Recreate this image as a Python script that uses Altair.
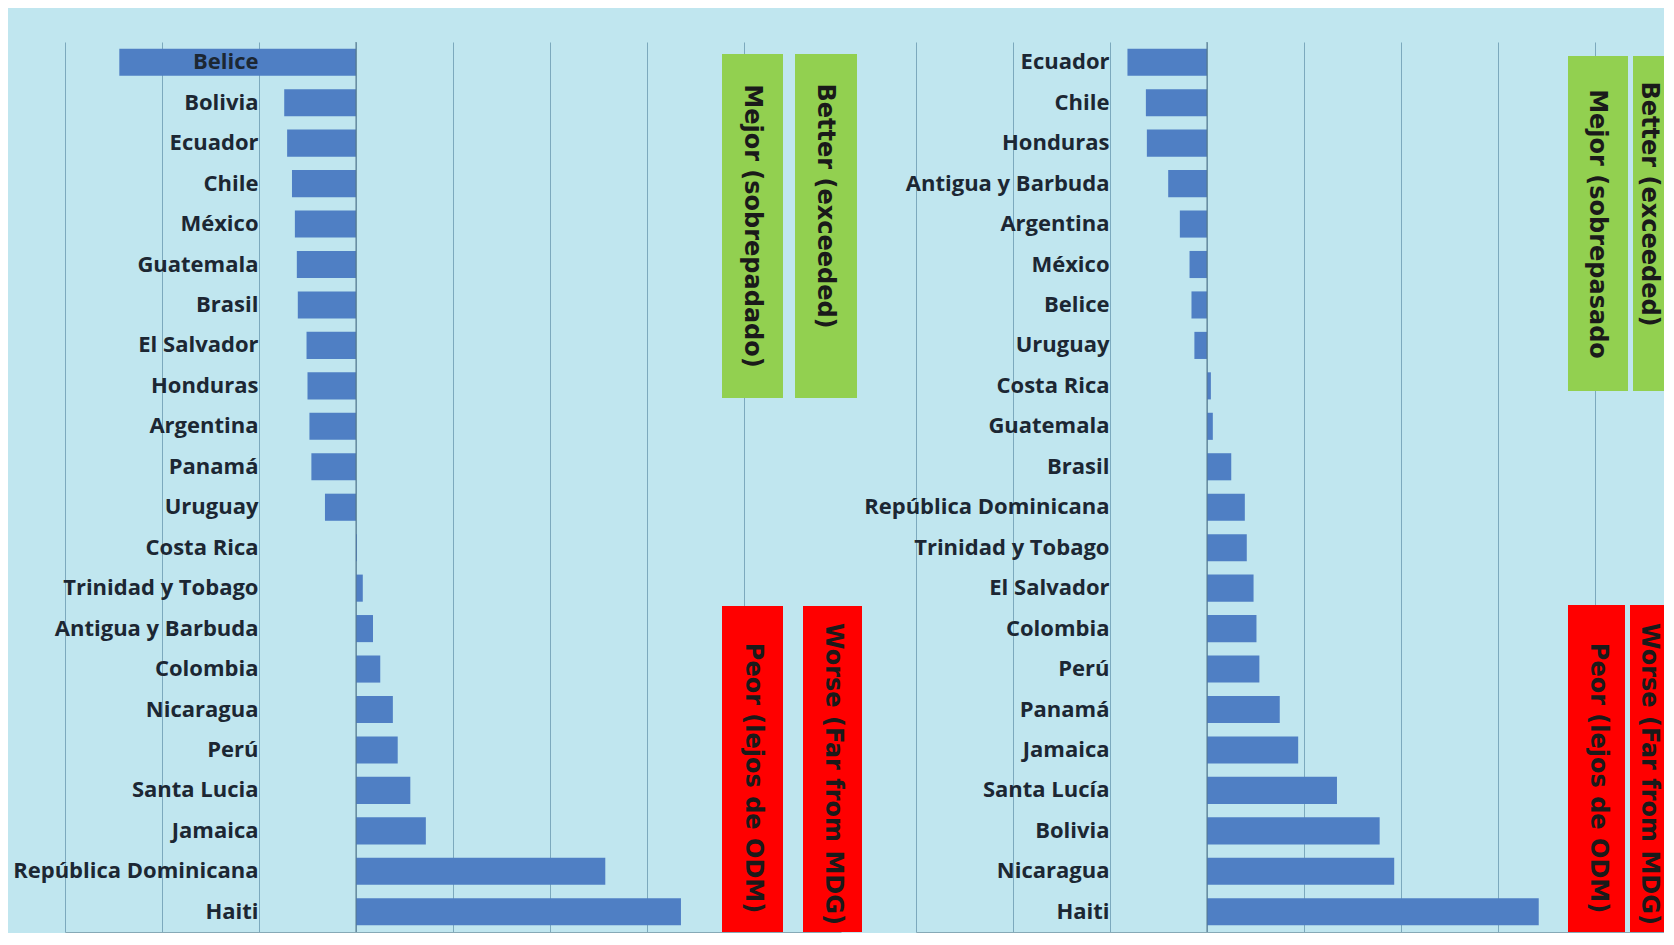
import altair as alt
import pandas as pd

# ---------------- data ----------------
left_countries = ["Belice", "Bolivia", "Ecuador", "Chile", "México", "Guatemala",
                  "Brasil", "El Salvador", "Honduras", "Argentina", "Panamá",
                  "Uruguay", "Costa Rica", "Trinidad y Tobago", "Antigua y Barbuda",
                  "Colombia", "Nicaragua", "Perú", "Santa Lucia", "Jamaica",
                  "República Dominicana", "Haiti"]
left_values = [-24.4, -7.4, -7.1, -6.6, -6.3, -6.1, -6.0, -5.1, -5.0, -4.8, -4.6,
               -3.2, 0.1, 0.7, 1.75, 2.5, 3.8, 4.3, 5.6, 7.2, 25.7, 33.5]

right_countries = ["Ecuador", "Chile", "Honduras", "Antigua y Barbuda", "Argentina",
                   "México", "Belice", "Uruguay", "Costa Rica", "Guatemala", "Brasil",
                   "República Dominicana", "Trinidad y Tobago", "El Salvador",
                   "Colombia", "Perú", "Panamá", "Jamaica", "Santa Lucía", "Bolivia",
                   "Nicaragua", "Haiti"]
right_values = [-8.2, -6.3, -6.2, -4.0, -2.8, -1.8, -1.6, -1.3, 0.4, 0.6, 2.5,
                3.9, 4.1, 4.8, 5.1, 5.4, 7.5, 9.4, 13.4, 17.8, 19.3, 34.2]

grid_values = [-30, -20, -10, 0, 10, 20, 30, 40]

left_tags = ["Mejor (sobrepadado)", "Better (exceeded)", "Peor (lejos de ODM)", "Worse (Far from MDG)"]
right_tags = ["Mejor (sobrepasado", "Better (exceeded)", "Peor (lejos de ODM)", "Worse (Far from MDG)"]

# ---------------- styling / layout ----------------
BG = "#c0e6ef"
BAR = "#4f7fc4"
GRID = "#74a2b7"
ZERO = "#55778b"
LABEL = "#1c2733"
GREEN = "#92d050"
RED = "#ff0000"
PLOT_H = 890
LEFT_W = 776
RIGHT_W = 748
XMIN = -30

# annotation boxes (pixel layout inside each panel): x1, x2, y1, y2, color
left_boxes = [(657, 718, 12, 356, GREEN), (730, 792, 12, 356, GREEN),
              (657, 718, 564, PLOT_H, RED), (738, 797, 564, PLOT_H, RED)]
left_text_pos = [(687, 184), (760, 164), (688, 736), (768, 732)]
right_boxes = [(652, 712, 14, 349, GREEN), (717, 770, 14, 349, GREEN),
               (652, 709, 563, PLOT_H, RED), (714, 770, 563, PLOT_H, RED)]
right_text_pos = [(681, 182), (733, 162), (682, 736), (733, 732)]


def panel(countries, values, width, xmax, boxes, text_pos, tags, clip):
    df = pd.DataFrame({"pais": countries, "valor": values})
    y = alt.Y("pais:N", sort=countries,
              scale=alt.Scale(paddingInner=0.33, paddingOuter=0.165),
              axis=alt.Axis(title=None, orient="left", offset=-193, labelPadding=0,
                            ticks=False, domain=False, grid=False, zindex=1,
                            labelFont="Open Sans", labelFontSize=22,
                            labelFontWeight="bold", labelColor=LABEL,
                            labelLimit=500))
    x = alt.X("valor:Q",
              scale=alt.Scale(domain=[XMIN, xmax], nice=False, zero=False),
              axis=alt.Axis(title=None, labels=False, ticks=False, values=grid_values,
                            grid=True, gridColor=GRID, gridWidth=1, gridOpacity=0.9,
                            domain=True, domainColor="#86a9b6", domainWidth=1))
    bars = alt.Chart(df).mark_bar(color=BAR).encode(x=x, y=y)
    zero = alt.Chart(pd.DataFrame({"valor": [0]})).mark_rule(
        color=ZERO, strokeWidth=1).encode(x="valor:Q")
    layers = [bars, zero]
    one = pd.DataFrame({"k": [0]})
    for (x1, x2, y1, y2, col) in boxes:
        layers.append(alt.Chart(one).mark_rect(color=col, clip=clip).encode(
            x=alt.value(x1), x2=alt.value(x2), y=alt.value(y1), y2=alt.value(y2)))
    for (tx, ty), tag in zip(text_pos, tags):
        layers.append(alt.Chart(one).mark_text(
            text=tag, angle=90, align="center", baseline="middle",
            font="DejaVu Sans", fontSize=24, fontWeight="bold", color="#1a1a1a"
        ).encode(x=alt.value(tx), y=alt.value(ty)))
    return alt.layer(*layers).properties(width=width, height=PLOT_H)


right_xmax = XMIN + RIGHT_W / (LEFT_W / 80.0)

left = panel(left_countries, left_values, LEFT_W, 50, left_boxes, left_text_pos, left_tags, False)
right = panel(right_countries, right_values, RIGHT_W, right_xmax, right_boxes, right_text_pos, right_tags, True)

chart = alt.hconcat(left, right, spacing=75, bounds="flush").resolve_scale(
    x="independent", y="independent"
).properties(
    background=BG,
    padding={"left": 4, "top": 33, "right": 0, "bottom": 0},
).configure_view(stroke=None, fill=BG)

chart.save("out.html", embed_options={"renderer": "svg", "actions": False})
